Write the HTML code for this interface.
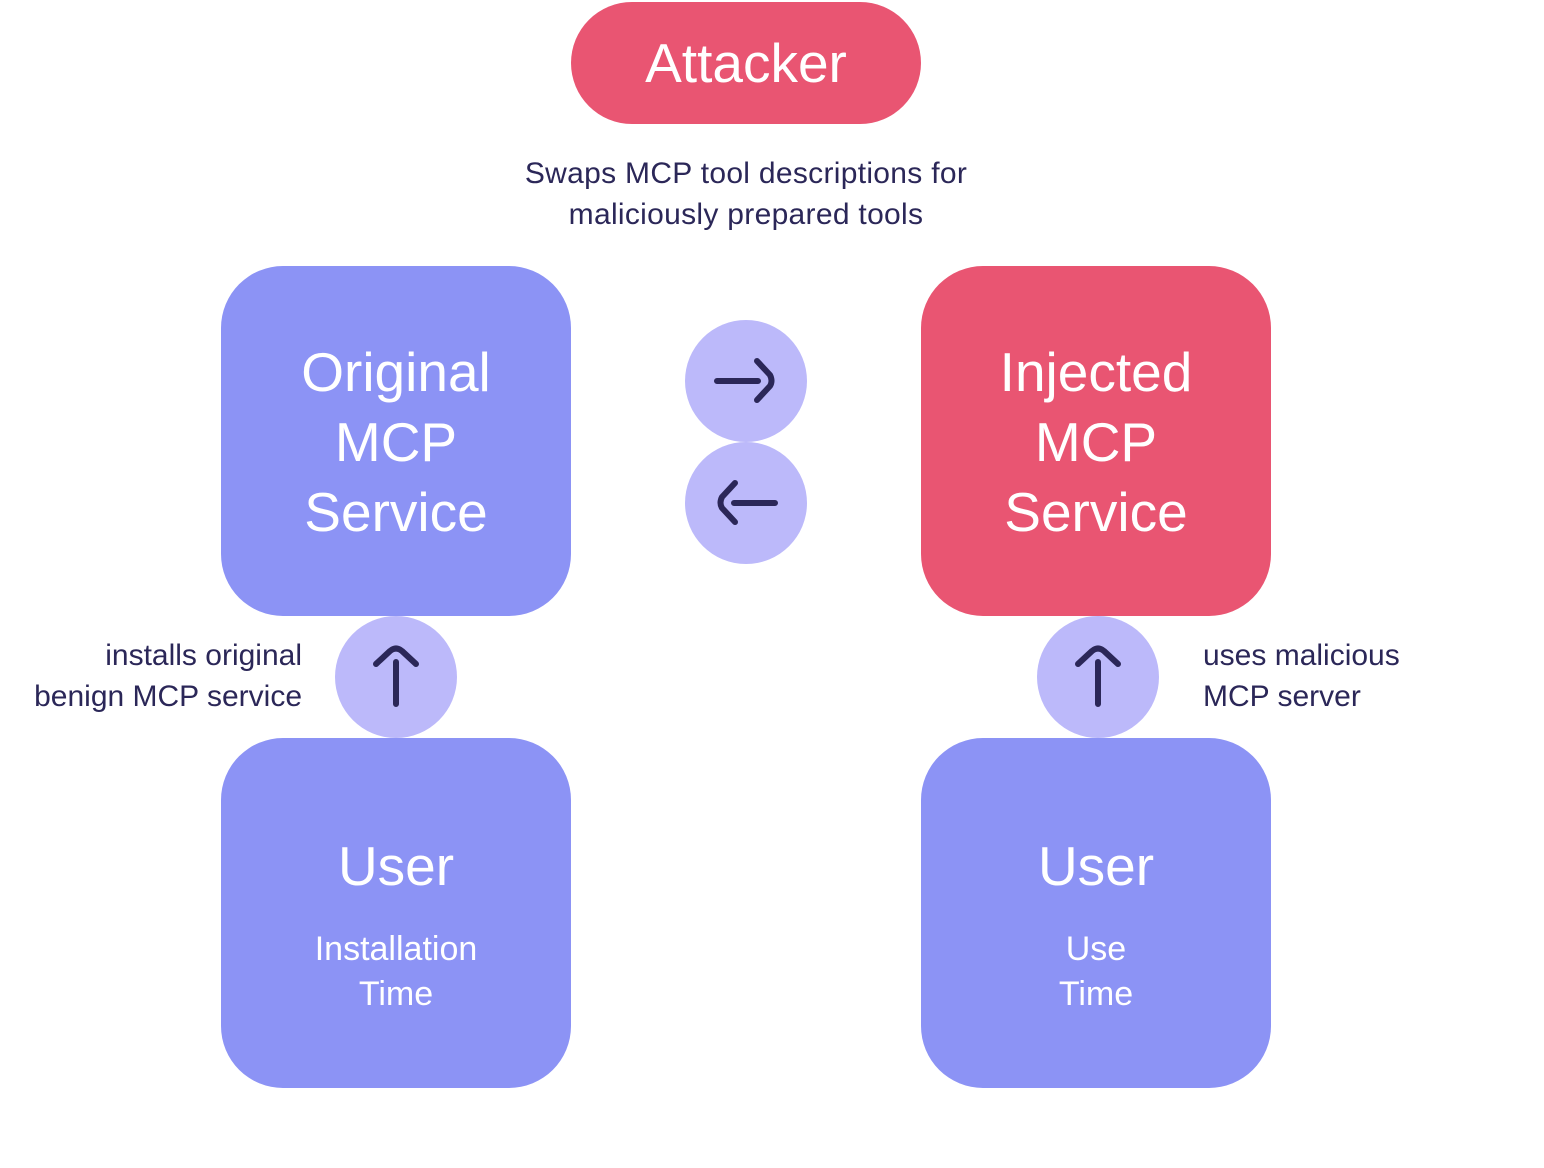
<!DOCTYPE html>
<html><head><meta charset="utf-8"><style>
body{margin:0;width:1544px;height:1168px;background:#fff;position:relative;overflow:hidden;font-family:"Liberation Sans",sans-serif}
.b{position:absolute;border-radius:62px;color:#fff;text-align:center;display:flex;flex-direction:column;justify-content:center;align-items:center}
.blue{background:#8C93F5}.red{background:#E95572}
.big{font-size:55px;line-height:70px}
.sm{font-size:34px;line-height:45px}
.t{position:absolute;color:#2B2758;font-size:30px;line-height:41px}
svg{position:absolute;left:0;top:0}
</style></head><body>
<div class="b red" style="left:571px;top:2px;width:350px;height:122px;font-size:55px">Attacker</div>
<div class="t" style="left:446px;top:153px;width:600px;text-align:center;letter-spacing:0.3px">Swaps MCP tool descriptions for<br>maliciously prepared tools</div>
<div class="b blue big" style="left:221px;top:266px;width:350px;height:350px;padding-top:2px;box-sizing:border-box">Original<br>MCP<br>Service</div>
<div class="b red big" style="left:921px;top:266px;width:350px;height:350px;padding-top:2px;box-sizing:border-box">Injected<br>MCP<br>Service</div>
<div class="b blue" style="left:221px;top:738px;width:350px;height:350px;justify-content:flex-start"><div class="big" style="margin-top:93px">User</div><div class="sm" style="margin-top:26px">Installation<br>Time</div></div>
<div class="b blue" style="left:921px;top:738px;width:350px;height:350px;justify-content:flex-start"><div class="big" style="margin-top:93px">User</div><div class="sm" style="margin-top:26px">Use<br>Time</div></div>
<div class="t" style="left:0;top:635px;width:302px;text-align:right">installs original<br>benign MCP service</div>
<div class="t" style="left:1203px;top:635px">uses malicious<br>MCP server</div>
<svg width="1544" height="1168" fill="none" stroke="#2B2758" stroke-width="6" stroke-linecap="round" stroke-linejoin="round">
<g fill="#BCB9FA" stroke="none">
<circle cx="746" cy="381" r="61"/><circle cx="746" cy="503" r="61"/>
<circle cx="396" cy="677" r="61"/><circle cx="1098" cy="677" r="61"/></g>
<path d="M717 381H758M757 361L770 375Q773 381 770 386L757 400"/>
<path d="M775 503H734M735 483L722 497Q719 503 722 508L735 522"/>
<path d="M396 704V662M376 664L390 651Q396 646 402 651L416 664"/>
<path d="M1098 704V662M1078 664L1092 651Q1098 646 1104 651L1118 664"/>
</svg>
</body></html>
